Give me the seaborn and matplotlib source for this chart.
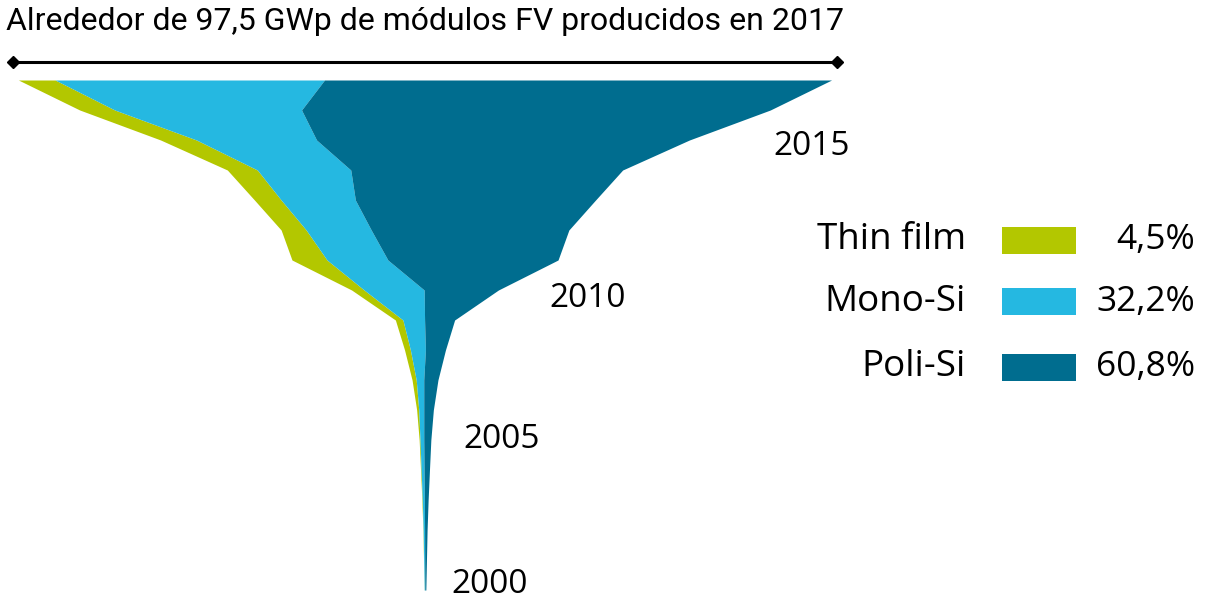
import matplotlib
matplotlib.use("Agg")
import matplotlib.pyplot as plt
import numpy as np
import seaborn as sns
from matplotlib.patches import Rectangle

# produccion anual de modulos FV (GWp)
years = np.arange(2000, 2018)
thin_film = [0.01, 0.02, 0.03, 0.05, 0.07, 0.10, 0.25, 0.50, 0.70, 0.90,
             1.5, 4.2, 3.0, 3.2, 3.6, 4.3, 4.2, 4.4]
mono_si = [0.07, 0.12, 0.17, 0.25, 0.35, 0.45, 0.60, 0.90, 1.8, 2.6,
           7.2, 7.3, 7.8, 8.9, 11.2, 14.4, 22.4, 32.3]
poli_si = [0.12, 0.21, 0.30, 0.45, 0.65, 0.85, 1.15, 1.7, 2.4, 3.6,
           8.9, 20.4, 23.7, 28.8, 32.6, 44.7, 56.2, 60.8]

tech_names = ["Thin film", "Mono-Si", "Poli-Si"]
tech_shares = ["4,5%", "32,2%", "60,8%"]
tech_colors = ["#B3C700", "#25B8E1", "#006D8F"]
year_labels = ["2015", "2010", "2005", "2000"]
title = "Alrededor de 97,5 GWp de módulos FV producidos en 2017"

sns.set_theme(style="white")
plt.rcParams["font.family"] = ["Open Sans", "DejaVu Sans"]
plt.rcParams["text.color"] = "black"

fig = plt.figure(figsize=(12.08, 6.05), dpi=100)
ax = fig.add_axes([0, 0, 1, 1])
ax.axis("off")

# escala: 8.34 px por GW, 30 px por año, centro del embudo en x=425 px
px_gw = 8.34
ax.set_xlim(-425 / px_gw, (1208 - 425) / px_gw)
ax.set_ylim(2000 - 15 / 30, 2017 + 80 / 30)

stack = np.vstack([thin_film, mono_si, poli_si])
total = stack.sum(axis=0)
lower = -total / 2
for values, color in zip(stack, tech_colors):
    upper = lower + values
    ax.fill_betweenx(years, lower, upper, color=color, lw=0)
    lower = upper

# linea con el total arriba
half = total[-1] / 2 + 0.6
ax.plot([-half, half], [2017.6, 2017.6], color="black", lw=2.2)
ax.plot([-half, half], [2017.6, 2017.6], ls="none", marker="D", ms=6, color="black")
ax.text(0, 2018.95, title, ha="center", va="center", fontsize=23,
        family=["Roboto", "Open Sans", "DejaVu Sans"])

# etiquetas de años
label_pos = [(46.4, 2014.77), (19.5, 2009.73), (9.2, 2005.0), (7.7, 2000.17)]
for lab, (x, y) in zip(year_labels, label_pos):
    ax.text(x, y, lab, ha="center", va="center", fontsize=24)

# leyenda manual
leg_y = [0.603, 0.501, 0.393]
for name, share, color, y in zip(tech_names, tech_shares, tech_colors, leg_y):
    fig.patches.append(Rectangle((0.8295, y - 0.0223), 0.0613, 0.0446,
                                 transform=fig.transFigure, color=color, lw=0))
    fig.text(0.7997, y, name, ha="right", va="center", fontsize=26.5)
    fig.text(0.989, y, share, ha="right", va="center", fontsize=25.5)

fig.savefig("out.png", dpi=100)
